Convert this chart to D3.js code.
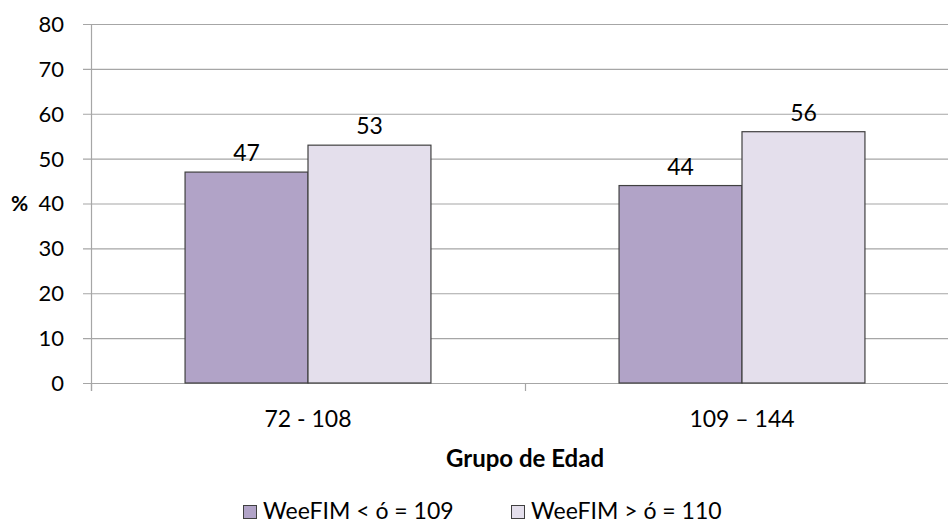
<!DOCTYPE html>
<html>
<head>
<meta charset="utf-8">
<script src="https://cdn.jsdelivr.net/npm/d3@7"></script>
<style>
  body { margin: 0; background: #fff; }
  text { font-family: Lato, "Open Sans", sans-serif; fill: #000; }
</style>
</head>
<body>
<div id="chart"></div>
<script>
var groups = ["72 - 108", "109 \u2013 144"];
var seriesNames = ["WeeFIM < \u00f3 = 109", "WeeFIM > \u00f3 = 110"];
var lowValues = [47, 44];
var highValues = [53, 56];
var yTicks = [0, 10, 20, 30, 40, 50, 60, 70, 80];

var colors = ["#b1a3c7", "#e4dfec"];
var width = 948, height = 523;
var plotLeft = 91, plotRight = 959, plotTop = 24, plotBottom = 383;

var svg = d3.select("#chart").append("svg")
    .attr("width", width)
    .attr("height", height);

var x = d3.scaleBand().domain(groups).range([plotLeft, plotRight]);
var xInner = d3.scaleBand().domain([0, 1]).range([0, x.bandwidth()]).paddingInner(0).paddingOuter(0.765);
var y = d3.scaleLinear().domain([0, 80]).range([plotBottom, plotTop]);

// grid lines
svg.selectAll(".grid")
  .data(yTicks)
  .enter()
  .append("line")
  .attr("x1", plotLeft - 8)
  .attr("x2", width)
  .attr("y1", function(d) { return y(d) + 0.5; })
  .attr("y2", function(d) { return y(d) + 0.5; })
  .attr("stroke", "#a6a6a6")
  .attr("stroke-width", 1.2);

// y axis line
svg.append("line")
  .attr("x1", plotLeft + 0.5).attr("x2", plotLeft + 0.5)
  .attr("y1", plotTop).attr("y2", plotBottom + 8)
  .attr("stroke", "#a6a6a6")
  .attr("stroke-width", 1.2);

// x ticks between categories
svg.selectAll(".xtick")
  .data(groups)
  .enter()
  .append("line")
  .attr("x1", function(d) { return x(d) + 0.5; })
  .attr("x2", function(d) { return x(d) + 0.5; })
  .attr("y1", plotBottom)
  .attr("y2", plotBottom + 8)
  .attr("stroke", "#a6a6a6")
  .attr("stroke-width", 1.2);

// y tick labels
svg.selectAll(".ylab")
  .data(yTicks)
  .enter()
  .append("text")
  .attr("x", 64)
  .attr("y", function(d) { return y(d); })
  .attr("dy", "0.36em")
  .attr("text-anchor", "end")
  .style("font-size", "22px")
  .text(function(d) { return d; });

svg.append("text")
  .attr("x", 11)
  .attr("y", y(40))
  .attr("dy", "0.36em")
  .style("font-size", "21px")
  .style("font-weight", "bold")
  .text("%");

// bars
var rows = [];
groups.forEach(function(g, i) {
  rows.push({ group: g, s: 0, v: lowValues[i] });
  rows.push({ group: g, s: 1, v: highValues[i] });
});

svg.selectAll(".bar")
  .data(rows)
  .enter()
  .append("rect")
  .attr("x", function(d) { return x(d.group) + xInner(d.s); })
  .attr("y", function(d) { return y(d.v); })
  .attr("width", xInner.bandwidth())
  .attr("height", function(d) { return plotBottom - y(d.v); })
  .attr("fill", function(d) { return colors[d.s]; })
  .attr("stroke", "#404040")
  .attr("stroke-width", 1.2);

svg.selectAll(".val")
  .data(rows)
  .enter()
  .append("text")
  .attr("x", function(d) { return x(d.group) + xInner(d.s) + xInner.bandwidth() / 2; })
  .attr("y", function(d) { return y(d.v) - 11; })
  .attr("text-anchor", "middle")
  .style("font-size", "23px")
  .text(function(d) { return d.v; });

// category labels
svg.selectAll(".cat")
  .data(groups)
  .enter()
  .append("text")
  .attr("x", function(d) { return x(d) + x.bandwidth() / 2; })
  .attr("y", 427)
  .attr("text-anchor", "middle")
  .style("font-size", "23px")
  .text(function(d) { return d; });

svg.append("text")
  .attr("x", 525)
  .attr("y", 467)
  .attr("text-anchor", "middle")
  .style("font-size", "24px")
  .style("font-weight", "bold")
  .text("Grupo de Edad");

// legend
var legendX = [243, 511];
seriesNames.forEach(function(name, i) {
  svg.append("rect")
    .attr("x", legendX[i] + 0.5)
    .attr("y", 505.5)
    .attr("width", 13)
    .attr("height", 13)
    .attr("fill", colors[i])
    .attr("stroke", "#404040")
    .attr("stroke-width", 1);
  svg.append("text")
    .attr("x", legendX[i] + 20)
    .attr("y", 519)
    .style("font-size", "23px")
    .text(name);
});
</script>
</body>
</html>
